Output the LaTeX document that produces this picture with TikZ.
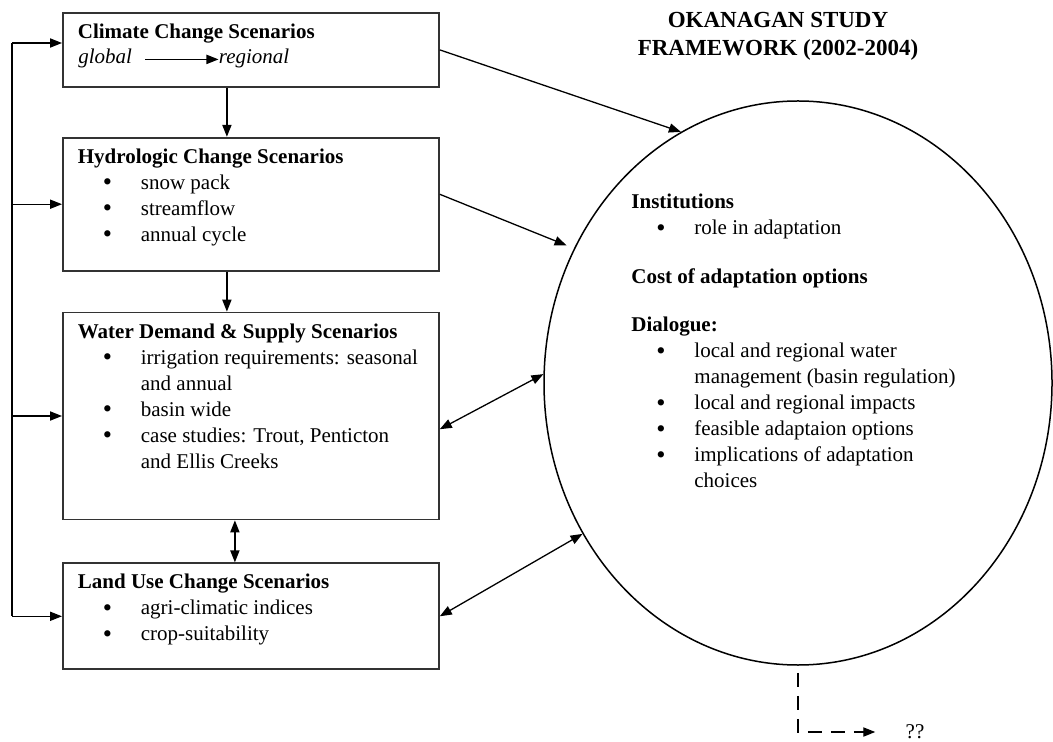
\documentclass[tikz,border=0pt]{standalone}
\usepackage{fontspec}
\setmainfont{Liberation Serif}
\usepackage{tikz}
\usetikzlibrary{shapes.geometric, arrows.meta, positioning, calc}
\tikzstyle{scenario} = [rectangle, draw=black!80, line width=0.9pt, inner xsep=7.5pt, inner ysep=4pt]
\tikzstyle{arrow} = [line width=0.65pt, -{Triangle[length=6pt,width=4.6pt]}]
\tikzstyle{twoway} = [line width=0.65pt, {Triangle[length=6pt,width=4.6pt]}-{Triangle[length=6pt,width=4.6pt]}]
\tikzstyle{dashline} = [line width=0.65pt, dash pattern=on 7pt off 4.5pt, -{Triangle[length=6pt,width=4.6pt]}]
\newcommand{\dotmark}{\raisebox{-0.8pt}{\scalebox{1.25}{\textbullet}}}
\newcommand{\bitem}[1]{\par\hangindent=31.5pt\hangafter=1\noindent\hspace*{12.5pt}\makebox[19pt][l]{\dotmark}#1}
\newcommand{\boxbody}[2]{\parbox[t][#1][t]{173pt}{\vspace*{1.5pt}\noindent #2}}

\begin{document}
\begin{tikzpicture}[x=0.5pt, y=-0.5pt, every node/.style={font=\fontsize{10.5pt}{13pt}\selectfont}]
\useasboundingbox (0,0) rectangle (1053,742);

\node (climate) [scenario, anchor=north west] at (62,12) {\boxbody{29pt}{\textbf{Climate Change Scenarios}}};
\node (glob) [anchor=base west, inner sep=0pt, font=\fontsize{10.5pt}{13pt}\selectfont\itshape] at (78,64) {global};
\node (regi) [base right=43pt of glob, inner sep=0pt, font=\fontsize{10.5pt}{13pt}\selectfont\itshape] {regional};
\node (hydro) [scenario, below=24.5pt of climate.south west, anchor=north west] {\boxbody{58.5pt}{\textbf{Hydrologic Change Scenarios}
  \bitem{snow pack}
  \bitem{streamflow}
  \bitem{annual cycle}}};
\node (water) [scenario, below=20pt of hydro.south west, anchor=north west] {\boxbody{95.5pt}{\textbf{Water Demand \& Supply Scenarios}
  \bitem{irrigation requirements: seasonal\\and annual}
  \bitem{basin wide}
  \bitem{case studies: Trout, Penticton\\and Ellis Creeks}}};
\node (land) [scenario, below=21pt of water.south west, anchor=north west] {\boxbody{45pt}{\textbf{Land Use Change Scenarios}
  \bitem{agri-climatic indices}
  \bitem{crop-suitability}}};

\node (title) [align=center, font=\fontsize{11.5pt}{14pt}\selectfont\bfseries] at (778,36) {OKANAGAN STUDY\\FRAMEWORK (2002-2004)};
\node (frame) [draw, ellipse, line width=0.75pt, minimum width=254pt, minimum height=282pt, inner sep=0pt] at (798,383) {};
\node (talk) [anchor=north west, inner sep=0pt] at (631,194) {\parbox[t]{175pt}{\noindent\textbf{Institutions}
  \bitem{role in adaptation}
  \par\vspace{11.5pt}\noindent\textbf{Cost of adaptation options}
  \par\vspace{11pt}\noindent\textbf{Dialogue:}
  \bitem{local and regional water\\management (basin regulation)}
  \bitem{local and regional impacts}
  \bitem{feasible adaptaion options}
  \bitem{implications of adaptation\\choices}}};
\node (unknown) [inner sep=0pt] at (915,732) {??};
\coordinate (bus) at (12,43);

% Arrows
\draw [arrow, shorten <=6.5pt] (glob.mid east) -- (regi.mid west);
\draw [arrow] ($(climate.south)+(-24,0)$) -- ($(hydro.north)+(-24,0)$);
\draw [arrow] ($(hydro.south)+(-24,0)$) -- ($(water.north)+(-24,0)$);
\draw [twoway] ($(water.south)+(-16,0)$) -- ($(land.north)+(-16,0)$);
\draw [line width=0.65pt] (bus) -- (bus |- land.west);
\draw [arrow] (bus) -- (bus -| climate.west);
\draw [arrow] (bus |- hydro.west) -- (hydro.west);
\draw [arrow] (bus |- water.west) -- (water.west);
\draw [arrow] (bus |- land.west) -- (land.west);
\draw [arrow] (climate.east) -- (frame.115);
\draw [arrow, shorten >=4pt] (hydro.3) -- (frame.149);
\draw [twoway] (water.-4) -- (frame.178);
\draw [twoway] (land.east) -- (frame.215);
\draw [dashline, shorten <=3.5pt, shorten >=15pt] (frame.south) |- (unknown.west);

\end{tikzpicture}
\end{document}
